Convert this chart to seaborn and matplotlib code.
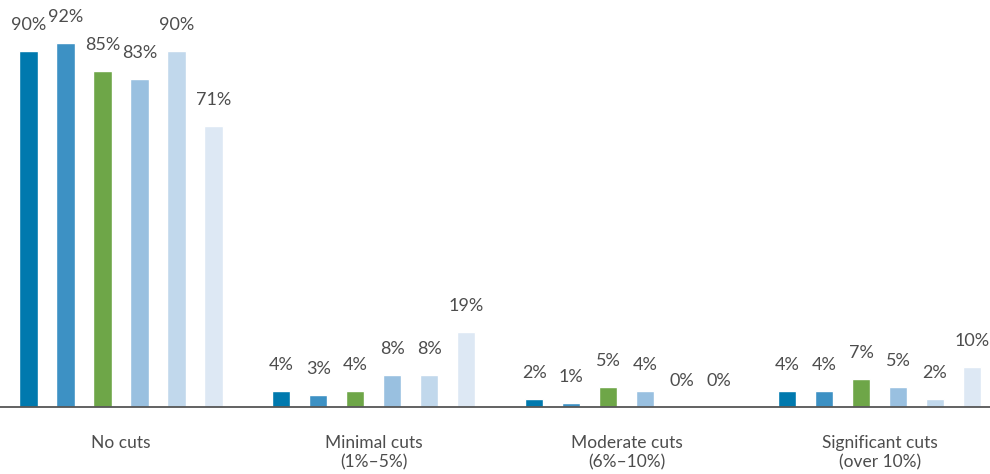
import matplotlib
matplotlib.use("Agg")
import matplotlib.pyplot as plt
import seaborn as sns
import pandas as pd

categories = ["No cuts", "Minimal cuts\n(1%–5%)", "Moderate cuts\n(6%–10%)", "Significant cuts\n(over 10%)"]
series_names = ["S1", "S2", "S3", "S4", "S5", "S6"]
values = {
    "S1": [90, 4, 2, 4],
    "S2": [92, 3, 1, 4],
    "S3": [85, 4, 5, 7],
    "S4": [83, 8, 4, 5],
    "S5": [90, 8, 0, 2],
    "S6": [71, 19, 0, 10],
}
colors = ["#0079ae", "#3d91c4", "#6ea648", "#99c0e0", "#c1d8ec", "#dde8f4"]

rows = []
for s in series_names:
    for c, v in zip(categories, values[s]):
        rows.append({"category": c, "series": s, "value": v})
df = pd.DataFrame(rows)

sns.set_style("white")
plt.rcParams["font.family"] = ["Lato", "DejaVu Sans"]
text_color = "#4d4d4d"

fig = plt.figure(figsize=(9.9, 4.74), dpi=100)
ax = fig.add_axes([-5.4 / 990, 1 - 407 / 474, 1011.4 / 990, 407 / 474])

sns.barplot(data=df, x="category", y="value", hue="series", hue_order=series_names,
            order=categories, palette=colors, width=0.878, gap=0.51,
            legend=False, ax=ax, saturation=1, errorbar=None)

for cont, s in zip(ax.containers, series_names):
    ax.bar_label(cont, labels=[f"{v}%" for v in values[s]], padding=13,
                 fontsize=13, color=text_color)

ax.set_ylim(0, 102.9)
ax.set_xlim(-0.5, 3.5)
ax.set_xlabel("")
ax.set_ylabel("")
ax.set_yticks([])
for side in ["top", "right", "left"]:
    ax.spines[side].set_visible(False)
ax.spines["bottom"].set_color("#555555")
ax.spines["bottom"].set_linewidth(1.3)
ax.tick_params(axis="x", length=0, pad=20, labelsize=12.5, labelcolor=text_color)
for lbl in ax.get_xticklabels():
    lbl.set_linespacing(1.25)

fig.savefig("out.png", dpi=100)
